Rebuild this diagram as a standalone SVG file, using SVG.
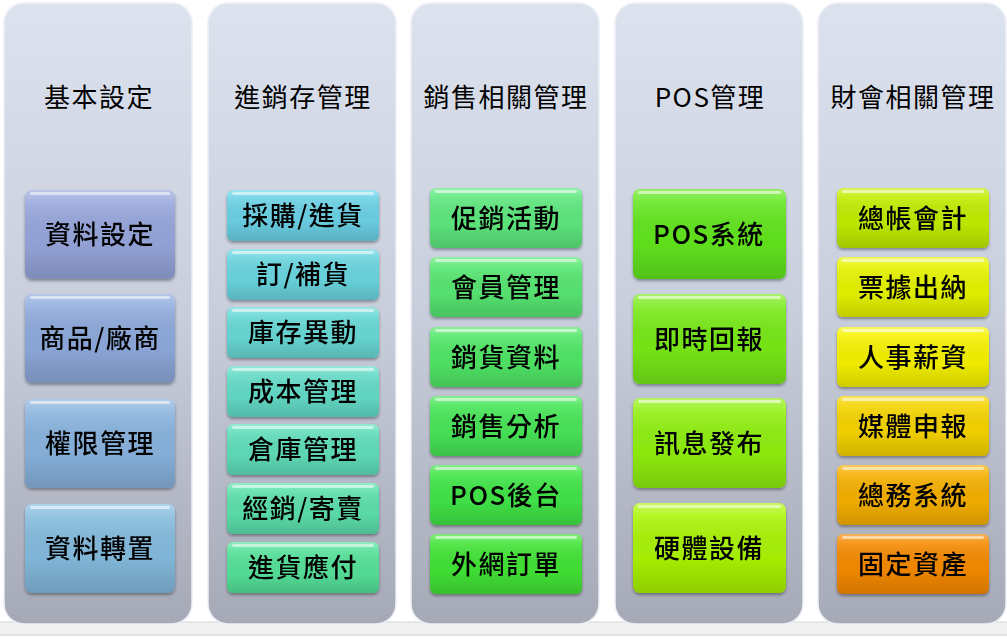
<svg xmlns="http://www.w3.org/2000/svg" width="1007" height="639" viewBox="0 0 1007 639">
<style>
text{font-family:"Noto Sans CJK TC","Noto Sans CJK SC",sans-serif;fill:#000;text-anchor:middle;dominant-baseline:central;font-weight:500}
.h{font-size:26px;letter-spacing:1.5px;font-weight:400}
.t{font-size:26px;letter-spacing:1.5px}
.col{fill:url(#colg);stroke:#eef0f7;stroke-width:1.5}
.box{filter:url(#sh)}
.gl{fill:url(#gloss)}
.hl{fill:#ffffff;opacity:0.55}
</style>
<defs>
<linearGradient id="colg" x1="0" y1="0" x2="0" y2="1">
<stop offset="0" stop-color="#dde2ef"/>
<stop offset="0.5" stop-color="#c9cedc"/>
<stop offset="1" stop-color="#a6a9b6"/>
</linearGradient>
<linearGradient id="gloss" x1="0" y1="0" x2="0" y2="1">
<stop offset="0" stop-color="#ffffff" stop-opacity="0.35"/>
<stop offset="0.15" stop-color="#ffffff" stop-opacity="0.12"/>
<stop offset="0.6" stop-color="#000000" stop-opacity="0.03"/>
<stop offset="1" stop-color="#000000" stop-opacity="0.16"/>
</linearGradient>
<filter id="sh" x="-10%" y="-10%" width="120%" height="130%">
<feDropShadow dx="0" dy="2" stdDeviation="1.5" flood-color="#000" flood-opacity="0.35"/>
</filter>
</defs>
<rect x="0" y="0" width="1007" height="639" fill="#ffffff"/>
<rect x="0" y="622" width="1007" height="13" fill="#f1f1f1"/>
<line x1="0" y1="622" x2="1007" y2="622" stroke="#d6d6d6"/>
<line x1="0" y1="635" x2="1007" y2="635" stroke="#d0d0d0"/>

<g id="col1">
<rect class="col" x="4" y="3" width="188" height="621" rx="20"/>
<text class="h" x="99" y="95">基本設定</text>
</g>
<g id="col2">
<rect class="col" x="208" y="3" width="188" height="621" rx="20"/>
<text class="h" x="303" y="95">進銷存管理</text>
</g>
<g id="col3">
<rect class="col" x="411" y="3" width="188" height="621" rx="20"/>
<text class="h" x="506" y="95">銷售相關管理</text>
</g>
<g id="col4">
<rect class="col" x="615" y="3" width="188" height="621" rx="20"/>
<text class="h" x="710" y="95">POS管理</text>
</g>
<g id="col5">
<rect class="col" x="818" y="3" width="188" height="621" rx="20"/>
<text class="h" x="913" y="95">財會相關管理</text>
</g>

<!-- column 1 -->
<g id="n-1-1" class="box"><rect x="25" y="190" width="150" height="89" rx="7" fill="#97a6dc"/><rect class="gl" x="25" y="190" width="150" height="89" rx="7"/><rect class="hl" x="30" y="192" width="140" height="3" rx="1.5"/><text class="t" x="100" y="232">資料設定</text></g>
<g id="n-1-2" class="box"><rect x="25" y="294" width="150" height="89" rx="7" fill="#8eaadc"/><rect class="gl" x="25" y="294" width="150" height="89" rx="7"/><rect class="hl" x="30" y="296" width="140" height="3" rx="1.5"/><text class="t" x="100" y="336">商品/廠商</text></g>
<g id="n-1-3" class="box"><rect x="25" y="399" width="150" height="89" rx="7" fill="#89b3de"/><rect class="gl" x="25" y="399" width="150" height="89" rx="7"/><rect class="hl" x="30" y="401" width="140" height="3" rx="1.5"/><text class="t" x="100" y="441">權限管理</text></g>
<g id="n-1-4" class="box"><rect x="25" y="504" width="150" height="89" rx="7" fill="#84bbde"/><rect class="gl" x="25" y="504" width="150" height="89" rx="7"/><rect class="hl" x="30" y="506" width="140" height="3" rx="1.5"/><text class="t" x="100" y="546">資料轉置</text></g>

<!-- column 2 -->
<g id="n-2-1" class="box"><rect x="227" y="190" width="152" height="51" rx="6" fill="#6cd2e6"/><rect class="gl" x="227" y="190" width="152" height="51" rx="6"/><rect class="hl" x="232" y="192" width="142" height="3" rx="1.5"/><text class="t" x="303" y="213">採購/進貨</text></g>
<g id="n-2-2" class="box"><rect x="227" y="249" width="152" height="51" rx="6" fill="#6ad6e0"/><rect class="gl" x="227" y="249" width="152" height="51" rx="6"/><rect class="hl" x="232" y="251" width="142" height="3" rx="1.5"/><text class="t" x="303" y="272">訂/補貨</text></g>
<g id="n-2-3" class="box"><rect x="227" y="307" width="152" height="51" rx="6" fill="#68d9d6"/><rect class="gl" x="227" y="307" width="152" height="51" rx="6"/><rect class="hl" x="232" y="309" width="142" height="3" rx="1.5"/><text class="t" x="303" y="330">庫存異動</text></g>
<g id="n-2-4" class="box"><rect x="227" y="366" width="152" height="51" rx="6" fill="#64dcc8"/><rect class="gl" x="227" y="366" width="152" height="51" rx="6"/><rect class="hl" x="232" y="368" width="142" height="3" rx="1.5"/><text class="t" x="303" y="389">成本管理</text></g>
<g id="n-2-5" class="box"><rect x="227" y="424" width="152" height="51" rx="6" fill="#60debb"/><rect class="gl" x="227" y="424" width="152" height="51" rx="6"/><rect class="hl" x="232" y="426" width="142" height="3" rx="1.5"/><text class="t" x="303" y="447">倉庫管理</text></g>
<g id="n-2-6" class="box"><rect x="227" y="483" width="152" height="51" rx="6" fill="#5ce0ac"/><rect class="gl" x="227" y="483" width="152" height="51" rx="6"/><rect class="hl" x="232" y="485" width="142" height="3" rx="1.5"/><text class="t" x="303" y="506">經銷/寄賣</text></g>
<g id="n-2-7" class="box"><rect x="227" y="542" width="152" height="51" rx="6" fill="#56e29a"/><rect class="gl" x="227" y="542" width="152" height="51" rx="6"/><rect class="hl" x="232" y="544" width="142" height="3" rx="1.5"/><text class="t" x="303" y="565">進貨應付</text></g>

<!-- column 3 -->
<g id="n-3-1" class="box"><rect x="430" y="188" width="152" height="60" rx="6" fill="#5ee87e"/><rect class="gl" x="430" y="188" width="152" height="60" rx="6"/><rect class="hl" x="435" y="190" width="142" height="3" rx="1.5"/><text class="t" x="506" y="216">促銷活動</text></g>
<g id="n-3-2" class="box"><rect x="430" y="257" width="152" height="60" rx="6" fill="#57e772"/><rect class="gl" x="430" y="257" width="152" height="60" rx="6"/><rect class="hl" x="435" y="259" width="142" height="3" rx="1.5"/><text class="t" x="506" y="285">會員管理</text></g>
<g id="n-3-3" class="box"><rect x="430" y="327" width="152" height="60" rx="6" fill="#50e766"/><rect class="gl" x="430" y="327" width="152" height="60" rx="6"/><rect class="hl" x="435" y="329" width="142" height="3" rx="1.5"/><text class="t" x="506" y="355">銷貨資料</text></g>
<g id="n-3-4" class="box"><rect x="430" y="396" width="152" height="60" rx="6" fill="#48e658"/><rect class="gl" x="430" y="396" width="152" height="60" rx="6"/><rect class="hl" x="435" y="398" width="142" height="3" rx="1.5"/><text class="t" x="506" y="424">銷售分析</text></g>
<g id="n-3-5" class="box"><rect x="430" y="465" width="152" height="60" rx="6" fill="#41e548"/><rect class="gl" x="430" y="465" width="152" height="60" rx="6"/><rect class="hl" x="435" y="467" width="142" height="3" rx="1.5"/><text class="t" x="506" y="493">POS後台</text></g>
<g id="n-3-6" class="box"><rect x="430" y="534" width="152" height="60" rx="6" fill="#42e436"/><rect class="gl" x="430" y="534" width="152" height="60" rx="6"/><rect class="hl" x="435" y="536" width="142" height="3" rx="1.5"/><text class="t" x="506" y="562">外網訂單</text></g>

<!-- column 4 -->
<g id="n-4-1" class="box"><rect x="633" y="189" width="153" height="90" rx="7" fill="#62e61e"/><rect class="gl" x="633" y="189" width="153" height="90" rx="7"/><rect class="hl" x="638" y="191" width="143" height="3" rx="1.5"/><text class="t" x="709" y="232">POS系統</text></g>
<g id="n-4-2" class="box"><rect x="633" y="294" width="153" height="90" rx="7" fill="#78ea18"/><rect class="gl" x="633" y="294" width="153" height="90" rx="7"/><rect class="hl" x="638" y="296" width="143" height="3" rx="1.5"/><text class="t" x="709" y="337">即時回報</text></g>
<g id="n-4-3" class="box"><rect x="633" y="398" width="153" height="90" rx="7" fill="#90f010"/><rect class="gl" x="633" y="398" width="153" height="90" rx="7"/><rect class="hl" x="638" y="400" width="143" height="3" rx="1.5"/><text class="t" x="709" y="441">訊息發布</text></g>
<g id="n-4-4" class="box"><rect x="633" y="503" width="153" height="90" rx="7" fill="#aaf406"/><rect class="gl" x="633" y="503" width="153" height="90" rx="7"/><rect class="hl" x="638" y="505" width="143" height="3" rx="1.5"/><text class="t" x="709" y="546">硬體設備</text></g>

<!-- column 5 -->
<g id="n-5-1" class="box"><rect x="837" y="188" width="152" height="60" rx="6" fill="#c2ec00"/><rect class="gl" x="837" y="188" width="152" height="60" rx="6"/><rect class="hl" x="842" y="190" width="142" height="3" rx="1.5"/><text class="t" x="913" y="216">總帳會計</text></g>
<g id="n-5-2" class="box"><rect x="837" y="257" width="152" height="60" rx="6" fill="#e6f400"/><rect class="gl" x="837" y="257" width="152" height="60" rx="6"/><rect class="hl" x="842" y="259" width="142" height="3" rx="1.5"/><text class="t" x="913" y="285">票據出納</text></g>
<g id="n-5-3" class="box"><rect x="837" y="327" width="152" height="60" rx="6" fill="#f6f200"/><rect class="gl" x="837" y="327" width="152" height="60" rx="6"/><rect class="hl" x="842" y="329" width="142" height="3" rx="1.5"/><text class="t" x="913" y="355">人事薪資</text></g>
<g id="n-5-4" class="box"><rect x="837" y="396" width="152" height="60" rx="6" fill="#f6d400"/><rect class="gl" x="837" y="396" width="152" height="60" rx="6"/><rect class="hl" x="842" y="398" width="142" height="3" rx="1.5"/><text class="t" x="913" y="424">媒體申報</text></g>
<g id="n-5-5" class="box"><rect x="837" y="465" width="152" height="60" rx="6" fill="#f6b000"/><rect class="gl" x="837" y="465" width="152" height="60" rx="6"/><rect class="hl" x="842" y="467" width="142" height="3" rx="1.5"/><text class="t" x="913" y="493">總務系統</text></g>
<g id="n-5-6" class="box"><rect x="837" y="534" width="152" height="60" rx="6" fill="#f68a00"/><rect class="gl" x="837" y="534" width="152" height="60" rx="6"/><rect class="hl" x="842" y="536" width="142" height="3" rx="1.5"/><text class="t" x="913" y="562">固定資產</text></g>
</svg>
